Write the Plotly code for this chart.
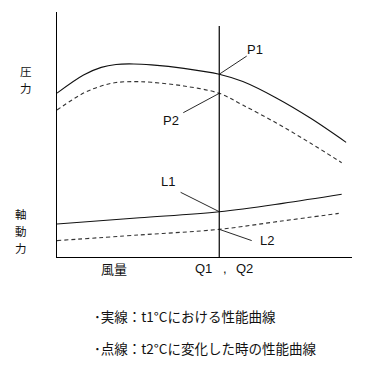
import plotly.graph_objects as go

# ---- data (flow in % of axis, values in % of axis height) ----
flow_p1 = [0, 9, 15, 20, 26, 32, 43, 55, 63, 74.5, 86, 98]
pressure_t1 = [66.9, 74.3, 77.4, 78.6, 78.8, 78.4, 77.0, 74.6, 71.6, 64.8, 56.6, 46.8]
flow_p2 = [0, 9, 15, 20, 26, 32, 43, 55, 63, 74.5, 86, 96.5]
pressure_t2 = [60.0, 66.9, 69.8, 71.2, 71.6, 71.3, 69.8, 66.8, 62.0, 54.6, 46.4, 38.5]
flow_l1 = [0, 28, 55, 76.5, 96.5]
power_t1 = [13.5, 16.0, 18.5, 21.9, 25.6]
flow_l2 = [0, 28, 55, 75, 95.5]
power_t2 = [6.7, 9.0, 11.3, 14.5, 17.8]
q_flow = 55
q_line_top = 94.3

curve_labels = ["P1", "P2", "L1", "L2"]
y_title_pressure = ["圧", "力"]
y_title_power = ["軸", "動", "力"]
x_labels = ["風量", "Q1", ",", "Q2"]
legend_lines = ["･実線：t1°Cにおける性能曲線", "･点線：t2°Cに変化した時の性能曲線"]

FONT = "Liberation Sans, Arial, 'Noto Sans CJK JP', sans-serif"
JFONT = "'Noto Sans CJK JP', 'Liberation Sans', sans-serif"

# page body has an 8px margin: shrink figure so the plot area lands where the reference has it
BODY = 8
W, H = 375 - BODY, 384 - BODY
ML, MR, MT, MB = 57 - BODY, 23, 12 - BODY, 127
PW, PH = W - ML - MR, H - MT - MB  # 295 x 245


def px_x(px):
    return (px - 57) / PW


def px_y(py):
    return (257 - py) / PH


fig = go.Figure()
solid = dict(color="#111", width=1.1, shape="spline")
dashed = dict(color="#333", width=1.1, dash="4px,3px", shape="spline")
fig.add_trace(go.Scatter(x=flow_p1, y=pressure_t1, mode="lines", line=solid))
fig.add_trace(go.Scatter(x=flow_p2, y=pressure_t2, mode="lines", line=dashed))
fig.add_trace(go.Scatter(x=flow_l1, y=power_t1, mode="lines", line=solid))
fig.add_trace(go.Scatter(x=flow_l2, y=power_t2, mode="lines", line=dashed))
fig.add_trace(go.Scatter(x=[q_flow, q_flow], y=[0, q_line_top], mode="lines",
                         line=dict(color="#000", width=1.2)))

# leader lines: from curve value at Q to label
iq1 = flow_p1.index(q_flow)
iq2 = flow_p2.index(q_flow)
il1 = flow_l1.index(q_flow)
il2 = flow_l2.index(q_flow)
leaders = [
    (pressure_t1[iq1], 64.3, 82.0, 67.1, 84.9),
    (pressure_t2[iq2], 42.8, 58.9, 38.5, 55.9),
    (power_t1[il1], 41.9, 26.4, 37.6, 31.0),
    (power_t2[il2], 66.0, 6.7, 71.2, 6.9),
]
for lab, (yq, ex, ey, tx, ty) in zip(curve_labels, leaders):
    fig.add_trace(go.Scatter(x=[q_flow, ex], y=[yq, ey], mode="lines",
                             line=dict(color="#111", width=0.9)))
    fig.add_annotation(x=tx, y=ty, xref="x", yref="y", text=lab, showarrow=False,
                       font=dict(family=FONT, size=13, color="#111"))


def add_text(t, x, y, fam, size, xanchor="center"):
    fig.add_annotation(x=x, y=y, xref="paper", yref="paper", text=t, showarrow=False,
                       xanchor=xanchor, yanchor="middle", borderpad=0,
                       font=dict(family=fam, size=size, color="#111"))


for ch, py in zip(y_title_pressure, [71, 88]):
    add_text(ch, px_x(26), px_y(py), JFONT, 11.5)
for ch, py in zip(y_title_power, [214, 231, 248]):
    add_text(ch, px_x(21), px_y(py), JFONT, 11.5)
for t, cx in zip(x_labels, [113.5, 203.3, 225, 244.3]):
    add_text(t, px_x(cx), px_y(268), JFONT if t == "風量" else FONT, 13)
for t, py in zip(legend_lines, [316, 348]):
    add_text(t, px_x(93), px_y(py), JFONT, 13.5, xanchor="left")

axis = dict(showgrid=False, zeroline=False, showticklabels=False, ticks="",
            showline=True, linecolor="#000", linewidth=1.2, range=[0, 100], fixedrange=True)
fig.update_layout(
    width=W, height=H, margin=dict(l=ML, r=MR, t=MT, b=MB),
    paper_bgcolor="white", plot_bgcolor="white", showlegend=False,
    xaxis=axis, yaxis=axis,
)
fig.write_html("out.html", config={"displayModeBar": False})
